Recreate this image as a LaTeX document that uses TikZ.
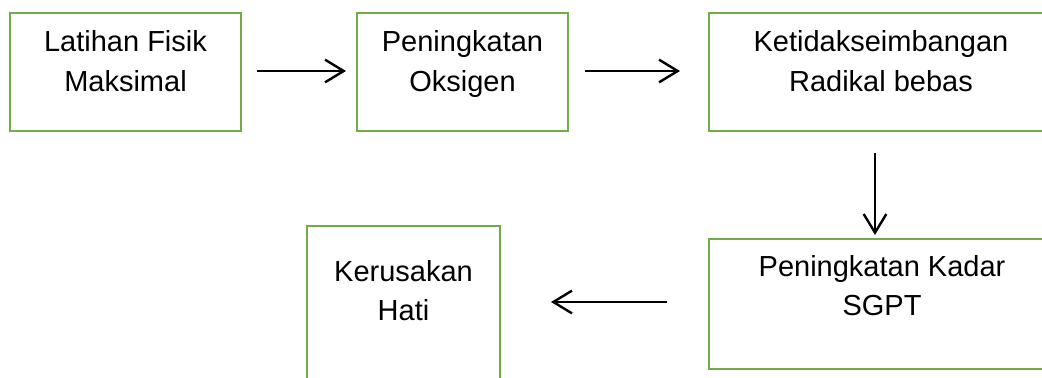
\documentclass[tikz,border=0pt]{standalone}
\usepackage{fontspec}
\setmainfont{Liberation Sans}
\usetikzlibrary{arrows.meta}
\definecolor{boxgreen}{RGB}{112,173,71}
\tikzset{
  flowbox/.style={draw=boxgreen, line width=2pt},
  boxtext/.style={anchor=base, inner sep=0pt, align=center, font=\fontsize{21.75pt}{29.25pt}\selectfont},
  flowarrow/.style={line width=1.8pt, -{Straight Barb[length=14pt, width=17pt, line width=1.8pt]}}
}
\begin{document}
\begin{tikzpicture}[x=0.75pt, y=-0.75pt]
\useasboundingbox (0,0) rectangle (1042,378);
\clip (0,0) rectangle (1042,378);
\fill[white] (0,0) rectangle (1042,378);
% boxes
\draw[flowbox] (10,13) rectangle (241,131);
\draw[flowbox] (357,13) rectangle (568,131);
\draw[flowbox] (709,13) rectangle (1055,131);
\draw[flowbox] (709,239) rectangle (1055,369);
\draw[flowbox] (307,226) rectangle (500,400);
% texts (base anchor = last line's baseline)
\node[boxtext] (t1) at (125.5,91) {Latihan Fisik\\Maksimal};
\node[boxtext] (t2) at (462.5,91) {Peningkatan\\Oksigen};
\node[boxtext] (t3) at (881,91) {Ketidakseimbangan\\Radikal bebas};
\node[boxtext] (t4) at (882,315) {Peningkatan Kadar\\SGPT};
\node[boxtext] (t5) at (403.5,320) {Kerusakan\\Hati};
% arrow end points
\coordinate (a1s) at (257,71);
\coordinate (a1e) at (346,71);
\coordinate (a2s) at (585,71);
\coordinate (a2e) at (680,71);
\coordinate (a3s) at (875,153);
\coordinate (a3e) at (875,235);
\coordinate (a4s) at (667,302);
\coordinate (a4e) at (551,302);
\draw[flowarrow] (a1s) -- (a1e);
\draw[flowarrow] (a2s) -- (a2e);
\draw[flowarrow] (a3s) -- (a3e);
\draw[flowarrow] (a4s) -- (a4e);
\end{tikzpicture}
\end{document}
